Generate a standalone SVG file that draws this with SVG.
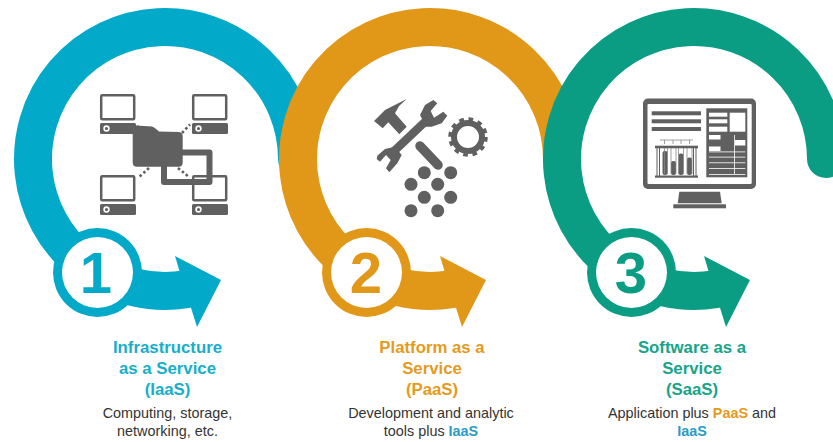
<svg xmlns="http://www.w3.org/2000/svg" width="833" height="442" viewBox="0 0 833 442">
<style>
text{font-family:"Liberation Sans",Arial,sans-serif;text-anchor:middle}
.t{font-size:16.8px;font-weight:700}
.b{font-size:14.4px;fill:#333}
.n{font-size:58px;font-weight:700}
.bold{font-weight:700}
.ring{fill:none;stroke-width:38;stroke-linecap:round}
.blue{stroke:#02a9c9}.orange{stroke:#e19717}.green{stroke:#0a9d84}
.fblue{fill:#02a9c9}.forange{fill:#e19717}.fgreen{fill:#0a9d84}
.tblue{fill:#17aecb}.torange{fill:#e59a1d}.tgreen{fill:#17a488}
.iaas{fill:#2b9bc4;font-weight:700}
.ic{fill:#606060}
.scr{fill:none;stroke:#606060;stroke-width:2.5}
.hole{fill:#606060;stroke:#fff;stroke-width:1.6}
.dots{fill:none;stroke:#606060;stroke-width:2.6;stroke-dasharray:2.6 2.4}
.wh{fill:#fff}
</style>
<defs>
<g id="pc">
<rect class="scr" x="1.2" y="1.2" width="33" height="24" rx="1"/>
<rect class="ic" x="0" y="29" width="36" height="11" rx="1.5"/>
<circle class="hole" cx="6.5" cy="34.5" r="2.4"/>
</g>
</defs>
<g id="connectors">
<path class="ring blue" d="M297 159A132 132 0 1 0 186 289.3"/>
<path class="fblue" d="M175 256L221 280L197 327L191.700 310L180 272.700Z"/>
<path class="ring orange" d="M562 159A132 132 0 1 0 451 289.3"/>
<path class="forange" d="M440 256L486 280L462 327L456.700 310L445 272.700Z"/>
<path class="ring green" d="M826 159A132 132 0 1 0 715 289.300"/>
<path class="fgreen" d="M704 256L750 280L726 327L720.700 310L709 272.700Z"/>
</g>
<g id="node-iaas">
<circle class="fblue" cx="97.500" cy="272.500" r="44.500"/>
<circle class="wh" cx="97.500" cy="272.500" r="35.500"/>
<text class="n tblue" x="96" y="293" style="fill:#02a9c9">1</text>
<use href="#pc" x="100" y="94"/>
<use href="#pc" x="192" y="94"/>
<use href="#pc" x="100" y="175"/>
<use href="#pc" x="192" y="175"/>
<path class="dots" d="M182 133L190 124.500M149 168L139 177M178 168L189 177M137 126L141 130"/>
<path fill="none" stroke="#606060" stroke-width="6" stroke-linejoin="round" d="M180 152.500H209.500V182H164V162"/>
<path class="ic" d="M132.700 130Q132.700 126 136 125.500L152 126.500Q154 127 159 131.500L179 132Q182.700 132.500 182.700 136V162.500Q182.700 166.700 178.500 166.700H137Q132.700 166.700 132.700 162.500Z"/>
<text class="t tblue" x="167.500" y="353">Infrastructure</text>
<text class="t tblue" x="167.500" y="374">as a Service</text>
<text class="t tblue" x="167.500" y="395">(IaaS)</text>
<text class="b" x="167.500" y="418">Computing, storage,</text>
<text class="b" x="167.500" y="436">networking, etc.</text>
</g>
<g id="node-paas">
<circle class="forange" cx="366.500" cy="272.500" r="44.500"/>
<circle class="wh" cx="366.500" cy="272.500" r="35.500"/>
<text class="n" x="366" y="293" style="fill:#e19717">2</text>
<path class="ic" d="M374 121L385 110L393.300 105.700L406.700 99L399.300 105.700L395 113.300L406.700 126.700L399.300 134.300L388.300 122.300L382.700 128.300Z"/>
<path fill="none" stroke="#606060" stroke-width="9.500" stroke-linecap="round" d="M420 146L438 165"/>
<path fill="none" stroke="#606060" stroke-width="8.500" d="M391 154L428 119"/>
<path class="ic" d="M420 115L425 105L433.300 100L437.300 103.300L430.700 111L434 117.700L443.300 111.700L447.300 115.700L441.700 123.300L431.700 126.700L426 126.700Z"/>
<path class="ic" d="M377.300 155.700L385 149L395 146.700L401.700 155L397.300 163.300L389.300 172.300L386 168.300L390.700 160L386 155L380 161.700L376.700 159Z"/>
<circle fill="none" stroke="#606060" stroke-width="6" cx="468" cy="137" r="14"/>
<circle fill="none" stroke="#606060" stroke-width="3.500" stroke-dasharray="4.700 4.720" cx="468" cy="137" r="18"/>
<g class="ic">
<circle cx="424.300" cy="172.700" r="6.500"/><circle cx="450.700" cy="172.700" r="6.500"/>
<circle cx="411" cy="184.300" r="6.500"/><circle cx="437.700" cy="184.300" r="6.500"/>
<circle cx="424.300" cy="197.300" r="6.500"/><circle cx="450.700" cy="197.300" r="6.500"/>
<circle cx="411" cy="210.700" r="6.500"/><circle cx="437.700" cy="210.700" r="6.500"/>
</g>
<text class="t torange" x="432" y="353">Platform as a</text>
<text class="t torange" x="432" y="374">Service</text>
<text class="t torange" x="432" y="395">(PaaS)</text>
<text class="b" x="431" y="418">Development and analytic</text>
<text class="b" x="431" y="436">tools plus <tspan class="iaas">IaaS</tspan></text>
</g>
<g id="node-saas">
<circle class="fgreen" cx="631.500" cy="272.500" r="44.500"/>
<circle class="wh" cx="631.500" cy="272.500" r="35.500"/>
<text class="n" x="631" y="293" style="fill:#0a9d84">3</text>
<rect class="ic" x="643" y="98.500" width="113" height="90.500" rx="5"/>
<rect class="wh" x="647.500" y="104" width="104.200" height="80" rx="1"/>
<path class="ic" d="M679.300 191.700H720L721.700 203.300H677.700Z"/>
<rect class="ic" x="673.300" y="204.300" width="52.700" height="4"/>
<g class="ic">
<rect x="651.700" y="111.300" width="49.300" height="4"/>
<rect x="651.700" y="119.300" width="49.300" height="4"/>
<rect x="651.700" y="127" width="49.300" height="4"/>
<rect x="706.300" y="108.300" width="41" height="69"/>
</g>
<g class="wh">
<rect x="709" y="112.700" width="18.300" height="4"/>
<rect x="709" y="119.300" width="18.300" height="4"/>
<rect x="709" y="126.700" width="18.300" height="5"/>
<rect x="729.700" y="112.700" width="15.600" height="19"/>
<rect x="709" y="135" width="11.500" height="4.500"/>
<rect x="735" y="140" width="10.300" height="5.500"/>
<rect x="709" y="146.500" width="11.500" height="4.500"/>
<rect x="709" y="151.500" width="36.300" height=".8"/>
<rect x="709" y="156.700" width="36.300" height=".8"/>
<rect x="709" y="162.400" width="36.300" height=".8"/>
<rect x="709" y="168.200" width="36.300" height=".8"/>
<rect x="734" y="135" width=".8" height="39"/>
<rect x="709" y="174" width="36.300" height=".8"/>
</g>
<g class="ic">
<rect x="655" y="145.700" width="43" height="2.600"/>
<rect x="655" y="175.500" width="43" height="2.200"/>
<rect x="656.500" y="148" width="1" height="28"/>
<rect x="659" y="148" width="1" height="28"/>
<rect x="693" y="148" width="1" height="28"/>
<rect x="695.500" y="148" width="1" height="28"/>
<rect x="662.500" y="151" width="5" height="24" rx="2"/>
<rect x="671" y="161" width="5" height="14" rx="2"/>
<rect x="678.500" y="153.500" width="5" height="21.500" rx="2"/>
<rect x="687" y="157.500" width="5" height="17.500" rx="2"/>
</g>
<path fill="none" stroke="#888" stroke-width=".8" d="M660 140H693M664.500 140V144M673 140V144M681 140V144M689.500 140V144M664.500 148V174M667.500 148V174M671 148V174M676 148V174M678.500 148V174M683.500 148V174M687 148V174M692 148V174"/>
<text class="t tgreen" x="692" y="353">Software as a</text>
<text class="t tgreen" x="692" y="374">Service</text>
<text class="t tgreen" x="692" y="395">(SaaS)</text>
<text class="b" x="692" y="418">Application plus <tspan class="torange bold">PaaS</tspan> and</text>
<text class="b" x="692" y="436"><tspan class="iaas">IaaS</tspan></text>
</g>
</svg>
